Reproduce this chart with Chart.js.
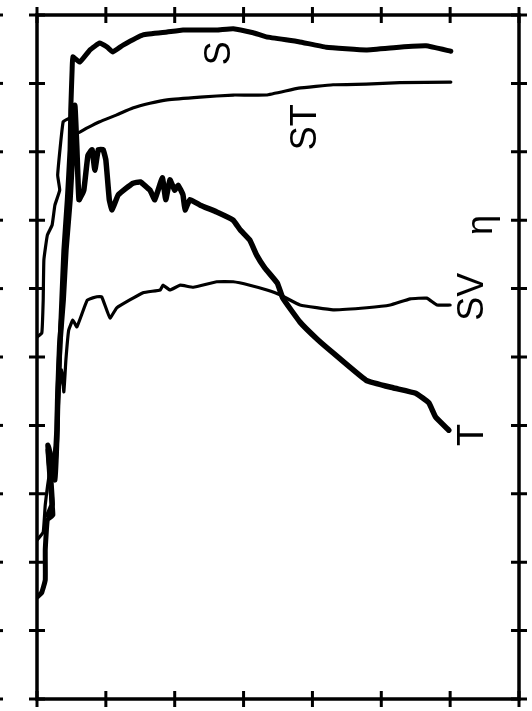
<!DOCTYPE html>
<html>
<head>
<meta charset="utf-8">
<script src="https://cdn.jsdelivr.net/npm/chart.js@4/dist/chart.umd.min.js"></script>
<style>
  html, body { margin: 0; padding: 0; background: #fff; }
</style>
</head>
<body>
<canvas id="curveChart" width="532" height="711"></canvas>
<script>
// curve S (thick)
const sX = [0, 0.07, 0.12, 0.12, 0.15, 0.23, 0.19, 0.16, 0.22, 0.26, 0.29, 0.30, 0.33, 0.36, 0.39, 0.44, 0.48, 0.49, 0.51, 0.52,
            0.62, 0.77, 0.91, 1.02, 1.10, 1.25, 1.54, 1.89, 2.12, 2.61, 2.85, 3.14, 3.33, 3.80, 4.20, 4.78, 5.26, 5.65, 6.01];
const sY = [8.51, 8.44, 8.26, 7.82, 7.38, 7.31, 6.80, 6.36, 6.51, 6.80, 6.21, 5.63, 4.90, 4.17, 3.44, 2.70, 1.97, 1.39, 0.80, 0.61,
            0.69, 0.51, 0.41, 0.47, 0.54, 0.44, 0.29, 0.25, 0.22, 0.22, 0.20, 0.26, 0.32, 0.39, 0.47, 0.51, 0.47, 0.45, 0.53];

// curve ST (thin)
const stX = [0, 0.07, 0.09, 0.10, 0.15, 0.22, 0.26, 0.33, 0.30, 0.38, 0.48, 0.58, 0.73, 0.91, 1.16, 1.39, 1.64, 1.89, 2.37, 2.85,
             3.33, 3.80, 4.30, 4.78, 5.27, 6.01];
const stY = [4.71, 4.65, 4.17, 3.58, 3.22, 3.07, 2.78, 2.56, 2.34, 1.56, 1.51, 1.73, 1.65, 1.56, 1.46, 1.36, 1.29, 1.24, 1.20, 1.17,
             1.17, 1.07, 1.02, 1.01, 0.99, 0.98];

// curve T (thick)
const tX = [0.16, 0.22, 0.19, 0.16, 0.25, 0.29, 0.30, 0.33, 0.38, 0.42, 0.48, 0.52, 0.55, 0.58, 0.61, 0.68, 0.74, 0.80, 0.84, 0.89,
            0.96, 1.00, 1.05, 1.09, 1.18, 1.39, 1.50, 1.64, 1.71, 1.82, 1.87, 1.93, 2.00, 2.05, 2.12, 2.15, 2.22, 2.37, 2.61, 2.85,
            2.95, 3.09, 3.19, 3.31, 3.49, 3.57, 3.82, 4.07, 4.30, 4.78, 5.17, 5.50, 5.69, 5.79, 5.98];
const tY = [7.31, 7.16, 6.65, 6.29, 6.65, 6.07, 5.63, 4.82, 4.17, 3.44, 2.70, 1.97, 1.32, 1.97, 2.70, 2.56, 2.05, 1.97, 2.27, 1.97,
            1.97, 2.12, 2.70, 2.85, 2.63, 2.46, 2.44, 2.56, 2.70, 2.38, 2.70, 2.41, 2.56, 2.49, 2.63, 2.85, 2.70, 2.78, 2.88, 3.00,
            3.14, 3.29, 3.51, 3.70, 3.92, 4.14, 4.49, 4.74, 4.94, 5.34, 5.45, 5.53, 5.67, 5.88, 6.07];

// curve SV (thin)
const svX = [0, 0.09, 0.12, 0.19, 0.29, 0.32, 0.36, 0.39, 0.42, 0.46, 0.52, 0.58, 0.73, 0.87, 0.94, 1.06, 1.16, 1.54, 1.79, 1.83,
             1.93, 2.08, 2.27, 2.61, 2.85, 3.09, 3.34, 3.53, 3.82, 4.30, 4.79, 5.13, 5.42, 5.66, 5.81, 6.00];
const svY = [7.68, 7.56, 7.16, 6.65, 6.21, 5.48, 5.19, 5.51, 5.04, 4.61, 4.46, 4.56, 4.17, 4.12, 4.12, 4.43, 4.28, 4.06, 4.02, 3.95,
             4.02, 3.95, 3.98, 3.90, 3.90, 3.95, 4.02, 4.09, 4.24, 4.31, 4.28, 4.24, 4.15, 4.14, 4.24, 4.24];

const xTicks = [0, 1, 2, 3, 4, 5, 6, 7];
const yTicks = [0, 1, 2, 3, 4, 5, 6, 7, 8, 9, 10];

// curve names written beside the lines
const curveLabels = [
    { text: "S", x: 2.66, y: 0.56 },
    { text: "ST", x: 3.91, y: 1.64 },
    { text: "SV", x: 6.33, y: 4.12 },
    { text: "T", x: 6.33, y: 6.14 },
    { text: "η", x: 6.46, y: 3.07 }
];

function toPoints(xs, ys) {
    return xs.map(function (x, i) { return { x: x, y: ys[i] }; });
}

const framePlugin = {
    id: "frame",
    afterDatasetsDraw(chart) {
        const ctx = chart.ctx;
        const a = chart.chartArea;
        const xs = chart.scales.x, ys = chart.scales.y;
        ctx.save();
        ctx.strokeStyle = "#000";
        ctx.lineWidth = 3.5;
        ctx.strokeRect(a.left, a.top, a.right - a.left, a.bottom - a.top);

        // ticks cross the frame on all four sides
        ctx.lineWidth = 3;
        ctx.beginPath();
        xTicks.forEach(function (v) {
            const px = xs.getPixelForValue(v);
            ctx.moveTo(px, a.top - 8); ctx.lineTo(px, a.top + 8);
            ctx.moveTo(px, a.bottom - 8); ctx.lineTo(px, a.bottom + 8);
        });
        yTicks.forEach(function (v) {
            const py = ys.getPixelForValue(v);
            ctx.moveTo(a.left - 8, py); ctx.lineTo(a.left + 8, py);
            ctx.moveTo(a.right - 8, py); ctx.lineTo(a.right + 8, py);
        });
        ctx.stroke();

        // cut-off tick label remnants at the left edge
        ctx.fillStyle = "#000";
        yTicks.forEach(function (v) {
            ctx.fillRect(0, ys.getPixelForValue(v) - 1.5, 3, 3);
        });

        ctx.font = "36px 'Liberation Sans', Arial, sans-serif";
        ctx.textAlign = "center";
        ctx.textBaseline = "middle";
        curveLabels.forEach(function (l) {
            ctx.save();
            ctx.translate(xs.getPixelForValue(l.x), ys.getPixelForValue(l.y));
            ctx.rotate(-Math.PI / 2);
            ctx.fillText(l.text, 0, 0);
            ctx.restore();
        });
        ctx.restore();
    }
};

function line(label, xs, ys, width) {
    return {
        label: label,
        data: toPoints(xs, ys),
        showLine: true,
        borderColor: "#000",
        borderWidth: width,
        pointRadius: 0,
        tension: 0.1,
        borderJoinStyle: "round",
        borderCapStyle: "round",
        fill: false
    };
}

new Chart(document.getElementById("curveChart"), {
    type: "scatter",
    data: {
        datasets: [
            line("S", sX, sY, 5),
            line("ST", stX, stY, 3.2),
            line("T", tX, tY, 5.5),
            line("SV", svX, svY, 3.2)
        ]
    },
    options: {
        responsive: false,
        animation: false,
        layout: { padding: { left: 37, right: 13, top: 15, bottom: 12 } },
        plugins: { legend: { display: false }, tooltip: { enabled: false } },
        scales: {
            x: { type: "linear", min: 0, max: 7, display: false },
            y: { type: "linear", min: 0, max: 10, reverse: true, display: false }
        }
    },
    plugins: [framePlugin]
});
</script>
</body>
</html>
